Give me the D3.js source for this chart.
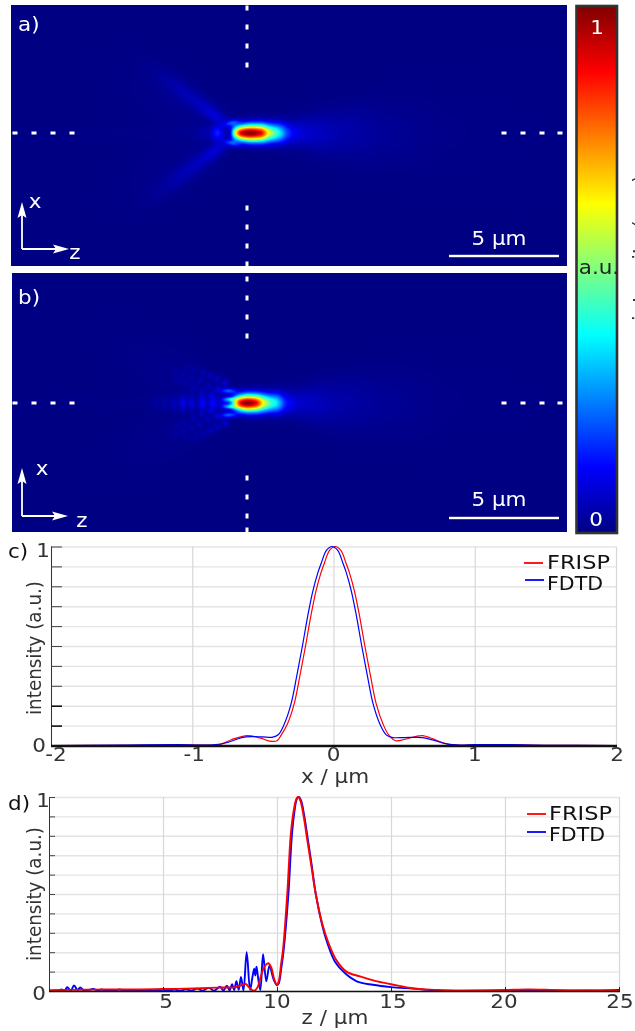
<!DOCTYPE html>
<html><head><meta charset="utf-8">
<script src="https://cdnjs.cloudflare.com/ajax/libs/d3/7.8.5/d3.min.js"></script>
<style>
html,body{margin:0;padding:0;background:#fff;overflow:hidden;width:635px;height:1031px}
canvas{position:absolute;display:block}
svg{position:absolute;left:0;top:0}
text{font-family:"DejaVu Sans",sans-serif}
</style></head><body>
<canvas id="heatA"></canvas><canvas id="heatB"></canvas>
<svg id="s" width="635" height="1031"></svg>
<script>
// ---- line data: panel c, transverse cut through the focus (x / um, intensity)
const cFrisp=[[-2,0],[-1.5,.001],[-1.1,.002],[-.9,.002],[-.8,.006],[-.72,.03],[-.61,.05],[-.52,.038],[-.45,.022],[-.4,.024],[-.368,.055],[-.328,.105],[-.278,.21],[-.238,.35],[-.198,.5],[-.158,.66],[-.123,.78],[-.088,.87],[-.063,.92],[-.028,.98],[.012,1],[.052,.98],[.087,.92],[.112,.87],[.147,.78],[.182,.66],[.222,.5],[.262,.35],[.302,.21],[.352,.105],[.392,.052],[.44,.024],[.5,.03],[.58,.045],[.63,.05],[.7,.035],[.78,.012],[.87,.002],[1,.002],[1.2,.003],[1.5,.001],[2,0]];
const cFdtd=[[-2,0],[-1.5,.002],[-1.1,.004],[-.95,.002],[-.85,.003],[-.75,.015],[-.65,.04],[-.58,.045],[-.5,.043],[-.43,.042],[-.39,.055],[-.35,.105],[-.3,.21],[-.26,.35],[-.22,.5],[-.18,.66],[-.145,.78],[-.11,.87],[-.085,.92],[-.05,.98],[-.01,1],[.03,.98],[.065,.92],[.09,.87],[.125,.78],[.16,.66],[.2,.5],[.24,.35],[.28,.21],[.33,.105],[.375,.052],[.42,.04],[.5,.04],[.63,.04],[.7,.028],[.8,.008],[.9,.002],[1,.004],[1.2,.005],[1.5,.001],[2,0]];
// ---- panel d, on-axis cut (z / um, intensity)
const dFrisp=[[0,.004],[1,.006],[2,.007],[3,.008],[4,.008],[5,.01],[6,.012],[7,.016],[7.6,.018],[8.2,.02],[8.45,.03],[8.63,.036],[8.8,.015],[8.99,.001],[9.15,.02],[9.3,.08],[9.48,.13],[9.62,.143],[9.75,.12],[9.88,.06],[10,.03],[10.08,.05],[10.18,.14],[10.27,.22],[10.45,.5],[10.6,.8],[10.72,.92],[10.85,.99],[10.93,1],[11.03,.98],[11.17,.9],[11.3,.8],[11.5,.65],[11.7,.5],[12,.34],[12.25,.25],[12.6,.16],[13.05,.1],[13.64,.075],[14.3,.052],[15,.035],[16,.013],[17,.006],[18,.002],[19,.003],[20,.005],[21,.008],[22,.006],[23,.003],[24,.002],[25,.002]];
const dFdtd=[[0,0],[.4,.001],[.55,.008],[.68,.001],[.8,.02],[.95,.002],[1.1,.028],[1.25,.005],[1.37,.018],[1.55,.001],[1.95,.01],[2.15,.001],[2.3,.008],[2.5,.001],[2.7,.005],[2.9,.001],[3.1,.008],[3.3,.001],[3.6,.004],[3.9,.001],[4.3,.004],[4.6,.001],[5,.006],[5.25,.001],[5.5,.007],[5.75,.001],[6,.009],[6.25,.002],[6.5,.012],[6.75,.002],[7,.016],[7.25,.002],[7.5,.022],[7.65,.003],[7.8,.027],[7.92,.004],[8.03,.035],[8.12,.005],[8.22,.05],[8.32,.006],[8.42,.072],[8.53,.003],[8.67,.2],[8.82,.005],[8.92,.07],[9,.115],[9.05,.08],[9.1,.125],[9.18,.06],[9.27,.005],[9.39,.19],[9.53,.05],[9.67,.13],[9.85,.06],[10,.03],[10.08,.04],[10.18,.11],[10.3,.22],[10.5,.5],[10.65,.8],[10.76,.92],[10.87,.99],[10.96,1],[11.06,.98],[11.2,.9],[11.33,.8],[11.52,.65],[11.7,.5],[11.98,.34],[12.2,.25],[12.55,.15],[13,.09],[13.5,.05],[14.2,.032],[15,.02],[16,.012],[17,.003],[18,.002],[20,.001],[22,.001],[24,.003],[25,.006]];
// ---- tick values
const cXTicks=[-2,-1,0,1,2], dXTicks=[5,10,15,20,25], yTicks=d3.range(0,11).map(i=>i/10);
const seriesNames=["FRISP","FDTD"];
// ---- field maps: on-axis colour value and beam half-width, both against distance from focus (um)
const aAxis=[[-12,.002],[-4,.006],[-2.5,.01],[-2.1,.035],[-1.85,.03],[-1.7,.09],[-1.5,.16],[-1.3,.11],[-1.1,.02],[-.95,.03],[-.86,.12],[-.77,.375],[-.64,.625],[-.45,.875],[-.2,.98],[0,1],[.25,.97],[.55,.875],[.82,.625],[1.05,.5],[1.36,.36],[1.65,.2],[1.95,.115],[2.5,.07],[4,.035],[6,.014],[9,.004],[15,.002]];
const bAxis=[[-12,.002],[-4.4,.005],[-4.1,.03],[-3.9,.01],[-3.73,.04],[-3.55,.01],[-3.35,.06],[-3.15,.02],[-2.9,.12],[-2.72,.02],[-2.55,.1],[-2.3,.02],[-2,.13],[-1.8,.03],[-1.55,.14],[-1.3,.05],[-1,.12],[-.85,.12],[-.68,.3],[-.5,.625],[-.32,.875],[-.1,.98],[0,1],[.2,.97],[.45,.875],[.73,.625],[1.05,.45],[1.36,.36],[1.73,.15],[2.27,.07],[4,.032],[6,.014],[9,.004],[15,.002]];
const widthZ=[-5,-1.5,-1,-.5,0,1,2,3,6,12];
const widthU=[.25,.24,.2,.24,.27,.29,.35,.55,1.05,2];
// features mirrored in x: [dz um from focus, |x| um, sigma along, sigma across, peak, tilt deg]
const aSpots=[[-.82,.46,.24,.1,.17,-14],[-1.55,.78,.55,.2,.055,37],[-2.5,1.48,1.0,.26,.035,37],[-3.5,2.2,1.1,.32,.014,37],[4.3,0,2.6,.9,.008,0],[-3.2,1.2,2,.9,.01,30]];
const bSpots=[[-.85,.55,.26,.09,.2,0],[-.8,.17,.2,.07,.22,0],[-1.0,.91,.1,.12,.08,35],[-1.35,1.09,.1,.12,.06,35],[-1.68,1.24,.1,.12,.05,35],[-2.0,1.39,.1,.12,.04,35],[-2.36,1.55,.1,.12,.03,35],[-2.74,1.59,.1,.12,.022,35],[-1.38,.64,.1,.12,.06,35],[-1.76,.79,.1,.12,.05,35],[-2.14,.98,.1,.12,.042,35],[-2.52,1.14,.1,.12,.034,35],[-2.9,1.29,.1,.12,.026,35],[-3.27,1.44,.1,.12,.018,35],[-1.68,.38,.1,.12,.05,20],[-2.06,.53,.1,.12,.046,20],[-2.44,.68,.1,.12,.04,20],[-2.82,.91,.1,.12,.03,20],[-3.2,1.06,.1,.12,.022,20],[4.3,0,2.6,.9,.008,0],[-3.2,1.2,2,.9,.01,30]];
// colour scale
const jetStops=[0,.125,.375,.625,.875,1];
const jetColors=["#000083","#0000ff","#00ffff","#ffff00","#ff0000","#800000"];
const jet=d3.scaleLinear().domain(jetStops).range(jetColors).clamp(true);

function drawHeat(id,left,top,w,h,fx,cy,axis,spots){
  const c=document.getElementById(id);c.width=w;c.height=h;c.style.left=left+"px";c.style.top=top+"px";
  const ctx=c.getContext("2d"),img=ctx.createImageData(w,h);
  const zS=d3.scaleLinear().domain([-12,12]).range([fx-12*22,fx+12*22]);
  const xS=d3.scaleLinear().domain([-6,6]).range([cy+6*22,cy-6*22]);
  const prof=d3.scaleLinear().domain(axis.map(d=>d[0])).range(axis.map(d=>d[1])).clamp(true);
  const wid=d3.scaleLinear().domain(widthZ).range(widthU).clamp(true);
  const sp=spots.map(s=>{const t=s[5]*Math.PI/180;return {z:s[0],x:s[1],a:s[2],b:s[3],p:s[4],c:Math.cos(t),s:Math.sin(t)};});
  for(let j=0;j<h;j++){const x=xS.invert(top+j+.5),ax=Math.abs(x);
    for(let i=0;i<w;i++){const z=zS.invert(left+i+.5);
      const ww=wid(z);
      let v=(prof(z-.07)+2*prof(z)+prof(z+.07))/4*Math.exp(-x*x/(2*ww*ww));
      for(const q of sp){
        const dz=z-q.z,dx=ax-q.x;
        const u=dz*q.c-dx*q.s,t=dz*q.s+dx*q.c;
        const e=(u*u)/(2*q.a*q.a)+(t*t)/(2*q.b*q.b); if(e<12) v+=q.p*Math.exp(-e);
      }
      const col=d3.rgb(jet(v)),k=4*(j*w+i);
      img.data[k]=col.r;img.data[k+1]=col.g;img.data[k+2]=col.b;img.data[k+3]=255;
    }}
  ctx.putImageData(img,0,0);
}
drawHeat("heatA",11,5,556,261,250,133,aAxis,aSpots);
drawHeat("heatB",12,273,555,259,247,403,bAxis,bSpots);

const svg=d3.select("#s");
// crosshair dashes
const dashY=[[8,27,46,65,208,227,246,264],[279,298,317,336,478,497,516,530]];
const dashX=[15,34,53,72,504,523,542,560];
[[247,133,0],[247,403,1]].forEach(([cx,cy,k])=>{
  svg.append("g").selectAll("rect").data(dashY[k]).join("rect").attr("x",cx-1.5).attr("y",d=>d-2.5).attr("width",3).attr("height",5).attr("fill","#fff");
  svg.append("g").selectAll("rect").data(dashX).join("rect").attr("x",d=>d-2.5).attr("y",cy-1.5).attr("width",5).attr("height",3).attr("fill","#fff");
});
function label(t,x,y,o={}){const e=svg.append("text").attr("x",x).attr("y",y).text(t).attr("fill",o.fill||"#333").attr("font-size",o.size||19).attr("text-anchor",o.anchor||"middle");
  const len=o.len||e.node().getComputedTextLength()*1.13;
  e.attr("textLength",len).attr("lengthAdjust","spacingAndGlyphs");
  if(o.rot)e.attr("transform",`rotate(${o.rot} ${x} ${y})`);return e;}
label("a)",18,31,{fill:"#fff",anchor:"start"});
label("b)",18,304,{fill:"#fff",anchor:"start"});
// axes arrows and scale bars
function triad(ox,oy,top,right,xl,xb,zl,zb){
  const g=svg.append("g");
  g.append("path").attr("d",`M${ox} ${oy}V${top+10}M${ox} ${oy}H${right-10}`).attr("stroke","#fff").attr("stroke-width",1.8).attr("fill","none");
  g.append("path").attr("d",`M${ox} ${top}l-4.5 16l4.5 -3l4.5 3zM${right} ${oy}l-16 -4.5l3 4.5l-3 4.5z`).attr("fill","#fff");
  label("x",xl,xb,{fill:"#fff"});label("z",zl,zb,{fill:"#fff"});
}
triad(22,249,202,69,35,208,75,259);
triad(22,516,468,68,42,475,82,527);
[[256,245],[518,506]].forEach(([y,b])=>{
  svg.append("rect").attr("x",449).attr("y",y-1.2).attr("width",110).attr("height",2.4).attr("fill","#fff");
  label("5 µm",499,b,{fill:"#fff"});
});
// colour bar
const defs=svg.append("defs"),grad=defs.append("linearGradient").attr("id","jetGrad").attr("x1",0).attr("x2",0).attr("y1",1).attr("y2",0);
grad.selectAll("stop").data(jetStops).join("stop").attr("offset",d=>d).attr("stop-color",(d,i)=>jetColors[i]);
svg.append("rect").attr("x",576.5).attr("y",6).attr("width",40.5).attr("height",527).attr("fill","url(#jetGrad)").attr("stroke","#333").attr("stroke-width",2.6);
label("1",597,34,{fill:"#fff"});
label("0",596,526,{fill:"#fff"});
label("a.u.",599,274,{fill:"#222"});
label("intensity (a.u.)",647,248,{rot:-90,size:20,fill:"#333",len:146});

// line charts
function lineChart(o){
  const x=d3.scaleLinear().domain(o.xDomain).range([o.left,o.right]);
  const y=d3.scaleLinear().domain([0,1]).range([o.bottom,o.top]);
  const g=svg.append("g");
  const gy=g.append("g").attr("transform",`translate(${o.left},0)`).call(d3.axisLeft(y).tickValues(yTicks).tickSize(-(o.right-o.left)).tickFormat(""));
  gy.select(".domain").remove();gy.selectAll("line").attr("stroke","#e4e4e4").attr("stroke-width",1.4);
  const gx=g.append("g").attr("transform",`translate(0,${o.bottom})`).call(d3.axisBottom(x).tickValues(o.xTicks).tickSize(-(o.bottom-o.top)).tickFormat(""));
  gx.select(".domain").remove();gx.selectAll("line").attr("stroke","#d8d8d8").attr("stroke-width",1.2);
  const line=d3.line().x(d=>x(d[0])).y(d=>y(d[1])).curve(d3.curveCatmullRom.alpha(.5));
  o.series.forEach(s=>g.append("path").attr("d",line(s.d)).attr("fill","none").attr("stroke",s.c).attr("stroke-width",o.lw));
  const ay=g.append("g").attr("transform",`translate(${o.left},0)`).call(d3.axisLeft(y).tickValues(yTicks).tickSize(-o.tick).tickFormat(""));
  ay.select(".domain").attr("stroke","#333").attr("stroke-width",1).attr("d",`M0.5 ${o.top}V${o.bottom}`);
  ay.selectAll("line").attr("stroke",d=>o.boldTicks.includes(d)?"#111":"#444").attr("stroke-width",d=>o.boldTicks.includes(d)?1.6:1);
  const ax=g.append("g").attr("transform",`translate(0,${o.bottom})`).call(d3.axisBottom(x).tickValues(o.xTicks).tickSize(-o.xTick).tickFormat(""));
  ax.select(".domain").attr("stroke","#111").attr("stroke-width",o.axisW).attr("d",`M${o.left} 0.5H${o.right+1}`);
  ax.selectAll("line").attr("stroke","#222");
  o.xLabels.forEach(([v,t,dx])=>label(t,x(v)+dx,o.xLabelY));
  label("1",43,o.top+(o.oneDy));
  label("0",39,o.bottom+o.zeroDy);
  label(o.xName,335,o.xNameY);
  label("intensity (a.u.)",41,(o.top+o.bottom)/2+o.yNameDy,{rot:-90,size:19.5,len:134});
  label(o.tag,8,o.tagY,{anchor:"start",fill:"#111"});
  o.legend.forEach((L,i)=>{
    svg.append("line").attr("x1",L.x1).attr("x2",L.x1+19).attr("y1",L.ly).attr("y2",L.ly).attr("stroke",L.c).attr("stroke-width",1.8);
    label(seriesNames[i],L.tx,L.ty,{anchor:"start",size:20,fill:"#111",len:L.len});
  });
}
lineChart({xDomain:[-2,2],xTicks:cXTicks,left:51,right:616,top:546.5,bottom:745.5,tick:11,xTick:0,axisW:2.4,lw:1.2,boldTicks:[.1,.2],
  series:[{d:cFrisp,c:"#f00"},{d:cFdtd,c:"#00f"}],
  xLabels:[[-2,"-2",5],[-1,"-1",2],[0,"0",0],[1,"1",0],[2,"2",1]],xLabelY:761,oneDy:10.5,zeroDy:6.5,xName:"x / µm",xNameY:783,yNameDy:2,tag:"c)",tagY:558,
  legend:[{x1:524,ly:563,tx:547,ty:569,c:"#f00",len:63},{x1:525,ly:580,tx:547,ty:590,c:"#00f",len:56}]});
lineChart({xDomain:[0,25],xTicks:dXTicks,left:49,right:619,top:797,bottom:991,tick:6,xTick:4,axisW:1.5,lw:1.9,boldTicks:[],
  series:[{d:dFdtd,c:"#00f"},{d:dFrisp,c:"#f00"}],
  xLabels:[[5,"5",3],[10,"10",0],[15,"15",2],[20,"20",-1],[25,"25",1]],xLabelY:1008,oneDy:9.5,zeroDy:9,xName:"z / µm",xNameY:1024,yNameDy:0,tag:"d)",tagY:810,
  legend:[{x1:527,ly:814,tx:549,ty:820,c:"#f00",len:63},{x1:527,ly:832,tx:549,ty:841,c:"#00f",len:56}]});
</script></body></html>
